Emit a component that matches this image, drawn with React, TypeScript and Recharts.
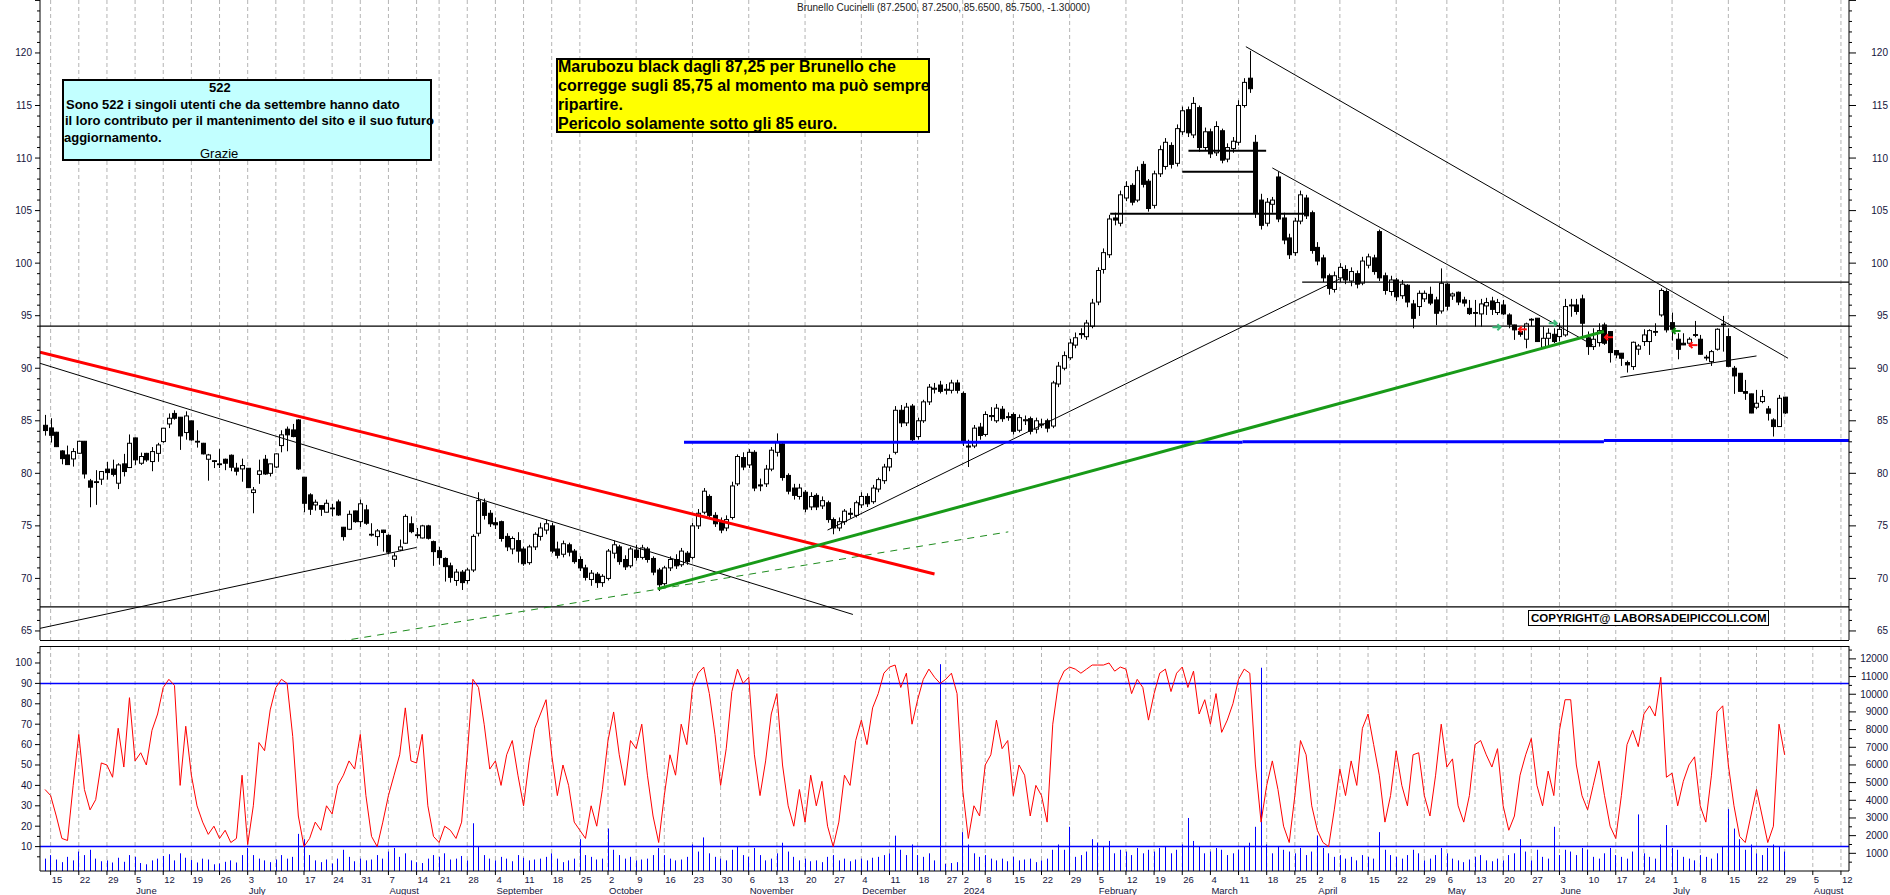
import React from 'react';
import { ComposedChart, Bar, Line, XAxis, YAxis, ReferenceLine, Scatter, CartesianGrid } from 'recharts';

const FONT = '"Liberation Sans", Arial, sans-serif';
const LABEL = '#14143c';

// ---------- calendar ----------
const HOLIDAYS = ['2023-08-15', '2023-12-25', '2023-12-26', '2024-01-01', '2024-03-29', '2024-04-01', '2024-05-01', '2024-08-15'];
const MONTHS = ['January', 'February', 'March', 'April', 'May', 'June', 'July', 'August', 'September', 'October', 'November', 'December'];

function buildDates(n: number): Date[] {
  const out: Date[] = [];
  let t = Date.UTC(2023, 4, 12);
  while (out.length < n) {
    const d = new Date(t);
    const wd = d.getUTCDay();
    const iso = d.toISOString().slice(0, 10);
    if (wd !== 0 && wd !== 6 && HOLIDAYS.indexOf(iso) < 0) out.push(d);
    t += 86400000;
  }
  return out;
}
const DATES = buildDates(325);

// ---------- price data (daily OHLC) ----------
const OPEN = [
  84.57, 84.32, 83.91, 82.13, 81.75, 81.37, 81.91, 83.05, 79.28, 79.20,
  79.44, 80.40, 80.40, 79.06, 80.90, 80.55, 83.37, 80.96, 81.90, 81.12,
  81.90, 83.02, 84.70, 85.70, 85.34, 83.88, 84.99, 83.05, 82.86, 81.34,
  81.20, 80.90, 81.34, 81.72, 80.50, 80.42, 80.48, 78.17, 79.90, 81.34,
  80.00, 80.60, 82.64, 84.20, 84.13, 85.08, 79.63, 77.95, 76.99, 76.93,
  76.30, 76.70, 77.28, 74.87, 74.68, 76.42, 75.40, 76.52, 74.20, 73.98,
  74.60, 74.10, 71.82, 72.70, 73.35, 75.20, 74.15, 73.85, 75.00, 73.50,
  72.64, 71.90, 71.20, 69.80, 70.60, 69.80, 70.80, 74.30, 77.20, 76.20,
  75.30, 75.40, 74.00, 72.80, 73.60, 72.80, 71.50, 73.00, 74.00, 74.60,
  75.00, 72.80, 72.30, 73.20, 72.60, 71.80, 71.00, 69.90, 70.40, 69.60,
  70.00, 72.40, 73.00, 71.80, 71.20, 72.70, 72.00, 72.80, 71.90, 70.80,
  69.50, 71.00, 71.80, 71.30, 72.40, 72.00, 75.00, 76.30, 77.80, 76.00,
  75.40, 74.80, 75.80, 79.00, 81.50, 80.80, 82.00, 78.90, 79.00, 80.40,
  82.00, 82.80, 79.80, 78.60, 77.80, 78.20, 76.80, 77.90, 76.90, 77.20,
  75.60, 74.80, 75.40, 76.20, 76.00, 77.00, 77.80, 77.30, 78.50, 79.30,
  80.60, 82.00, 86.00, 84.80, 86.40, 83.50, 85.00, 86.80, 88.00, 88.40,
  87.90, 87.90, 88.60, 87.60, 82.60, 82.60, 84.40, 83.70, 85.40, 85.00,
  86.10, 85.30, 85.60, 84.10, 85.00, 85.20, 84.20, 84.60, 85.00, 84.50,
  88.50, 90.00, 91.00, 92.20, 93.20, 93.00, 94.00, 96.30, 99.40, 100.80,
  104.30, 103.80, 106.20, 107.40, 106.00, 109.40, 107.80, 105.50, 108.50, 109.20,
  111.20, 109.50, 112.50, 114.60, 112.20, 114.80, 111.00, 112.50, 110.50, 112.60,
  109.90, 110.90, 111.50, 115.00, 117.60, 111.50, 106.00, 103.80, 105.60, 108.20,
  104.30, 102.40, 101.00, 104.00, 106.20, 104.80, 101.50, 100.50, 98.80, 97.50,
  98.60, 99.40, 98.30, 99.00, 98.10, 99.80, 100.50, 103.00, 98.80, 97.30,
  98.40, 96.90, 97.90, 96.12, 95.87, 96.60, 97.03, 96.50, 95.45, 98.00,
  96.88, 97.23, 96.50, 95.70, 95.30, 95.17, 95.93, 96.40, 95.30, 96.02,
  95.07, 94.12, 93.49, 92.76, 94.66, 94.76, 91.99, 92.85, 93.23, 93.01,
  93.17, 96.02, 96.02, 96.60, 92.90, 92.06, 92.44, 94.12, 93.49, 91.68,
  91.43, 90.54, 90.16, 91.81, 92.54, 92.54, 93.50, 95.07, 97.30, 94.34,
  92.76, 92.38, 92.38, 93.20, 92.76, 91.05, 90.63, 91.81, 94.20, 93.01,
  90.00, 89.52, 87.78, 87.56, 86.29, 86.83, 86.13, 85.08, 84.45, 87.25,
];
const HIGH = [
  85.56, 85.24, 83.95, 82.20, 82.64, 82.39, 83.10, 83.08, 79.47, 80.30,
  80.20, 81.10, 81.30, 80.96, 81.85, 83.70, 83.40, 81.97, 81.95, 82.50,
  82.90, 84.30, 85.70, 86.00, 85.36, 85.90, 85.00, 84.10, 82.90, 81.85,
  81.25, 82.30, 81.40, 81.80, 81.00, 81.40, 80.50, 78.70, 81.30, 81.75,
  80.92, 81.90, 84.10, 84.45, 84.70, 85.15, 79.65, 78.10, 77.50, 76.95,
  77.50, 77.10, 77.50, 74.90, 76.46, 76.45, 77.50, 77.00, 75.25, 74.70,
  74.62, 74.20, 72.45, 73.70, 76.10, 75.90, 74.80, 75.10, 75.10, 73.60,
  73.00, 72.00, 71.50, 70.90, 70.80, 71.00, 74.20, 78.20, 77.60, 76.50,
  75.80, 75.50, 74.30, 74.00, 74.40, 73.00, 73.20, 74.40, 75.30, 75.60,
  75.30, 73.50, 73.60, 73.40, 72.80, 72.10, 71.30, 70.80, 70.60, 70.40,
  72.80, 73.60, 73.20, 72.20, 73.00, 73.20, 73.20, 73.00, 72.10, 71.00,
  71.20, 72.10, 72.30, 72.90, 72.60, 75.30, 76.60, 78.60, 78.00, 76.30,
  75.80, 76.00, 79.20, 81.80, 82.00, 82.30, 82.20, 79.50, 80.80, 82.50,
  83.80, 83.00, 80.00, 79.00, 79.00, 78.40, 78.20, 78.10, 77.80, 77.40,
  75.80, 75.80, 76.60, 76.70, 77.40, 78.20, 78.10, 78.90, 79.60, 80.90,
  81.80, 86.40, 86.50, 86.70, 86.60, 85.30, 87.00, 88.50, 88.60, 88.80,
  88.50, 88.90, 88.90, 87.80, 83.20, 84.60, 84.80, 85.90, 86.30, 86.60,
  86.40, 85.80, 85.80, 85.60, 85.50, 85.40, 85.30, 85.20, 85.20, 88.80,
  90.60, 91.60, 92.80, 93.40, 93.80, 94.60, 96.60, 99.60, 101.40, 104.60,
  104.80, 106.90, 107.80, 107.60, 109.20, 109.70, 108.00, 108.80, 111.20, 111.90,
  111.50, 113.20, 114.90, 114.90, 115.80, 115.00, 112.90, 112.80, 113.50, 112.80,
  111.40, 112.00, 115.50, 117.60, 120.20, 112.20, 106.60, 106.20, 106.30, 108.70,
  104.80, 102.80, 104.30, 106.90, 106.50, 105.00, 102.00, 100.80, 99.00, 99.20,
  100.00, 99.80, 99.60, 99.30, 100.60, 100.90, 100.80, 103.20, 99.10, 98.80,
  98.60, 98.40, 98.00, 96.50, 97.40, 97.40, 97.76, 96.80, 99.50, 98.10,
  97.20, 97.30, 96.80, 96.50, 96.50, 96.60, 96.70, 96.80, 96.60, 96.50,
  95.23, 94.14, 93.80, 94.34, 94.76, 94.78, 93.96, 93.80, 93.80, 94.28,
  96.60, 96.60, 96.60, 97.00, 93.50, 93.80, 94.28, 94.34, 93.50, 91.74,
  91.45, 90.73, 92.54, 92.31, 93.71, 93.71, 94.28, 97.60, 97.50, 95.30,
  93.33, 93.33, 92.95, 94.50, 93.17, 91.27, 91.74, 93.80, 94.98, 93.80,
  90.22, 89.54, 88.89, 87.58, 87.94, 87.94, 86.41, 85.24, 87.46, 87.27,
];
const LOW = [
  83.59, 82.93, 82.50, 80.86, 80.80, 80.64, 81.85, 79.50, 76.77, 77.00,
  78.90, 79.40, 79.70, 78.50, 79.70, 80.50, 80.80, 80.80, 81.10, 80.20,
  81.10, 82.90, 84.30, 85.10, 82.23, 83.20, 83.10, 82.45, 81.80, 79.30,
  80.50, 80.50, 80.30, 80.20, 79.80, 79.20, 78.60, 76.20, 79.00, 79.85,
  79.70, 80.50, 82.00, 82.10, 83.43, 80.32, 76.30, 76.04, 76.46, 75.95,
  76.28, 75.90, 75.95, 73.60, 74.60, 75.30, 74.90, 75.10, 74.00, 73.10,
  72.55, 72.30, 71.10, 72.60, 73.30, 74.30, 73.80, 73.80, 73.70, 71.20,
  71.30, 69.70, 69.60, 69.30, 68.90, 69.50, 70.60, 74.00, 75.60, 74.90,
  74.70, 73.50, 72.60, 72.30, 71.50, 71.20, 71.30, 72.70, 73.60, 74.20,
  72.40, 71.90, 72.00, 72.10, 71.40, 70.70, 69.80, 69.30, 69.10, 69.20,
  69.80, 71.90, 71.30, 70.80, 71.00, 71.70, 71.80, 71.50, 70.30, 68.80,
  69.30, 70.70, 70.90, 71.10, 71.30, 71.80, 74.70, 76.10, 75.70, 74.90,
  74.30, 74.50, 75.60, 78.80, 80.30, 80.50, 78.30, 78.30, 78.70, 80.20,
  81.60, 79.30, 78.00, 77.50, 77.50, 76.30, 76.50, 76.50, 76.60, 75.30,
  74.20, 74.50, 75.10, 75.70, 75.80, 76.70, 76.80, 77.10, 78.20, 79.00,
  80.20, 81.80, 84.40, 84.50, 83.00, 83.20, 84.80, 86.50, 87.60, 87.60,
  87.50, 87.60, 87.60, 82.60, 80.60, 82.40, 83.20, 83.50, 85.00, 84.80,
  84.90, 85.00, 83.70, 83.90, 84.60, 83.70, 83.80, 84.30, 83.90, 84.30,
  88.20, 89.80, 90.80, 91.90, 92.80, 92.70, 93.80, 96.00, 99.00, 100.50,
  103.60, 103.50, 105.90, 105.50, 105.80, 107.20, 104.90, 105.20, 108.20, 108.90,
  109.00, 109.20, 112.20, 112.00, 111.90, 110.60, 110.70, 110.00, 110.20, 109.50,
  109.60, 110.50, 111.20, 114.80, 116.20, 104.30, 103.20, 103.50, 104.80, 103.90,
  101.80, 100.40, 100.70, 103.70, 104.20, 100.90, 99.80, 98.20, 97.00, 97.20,
  98.20, 98.00, 97.80, 97.60, 97.90, 99.50, 98.90, 98.30, 97.00, 96.90,
  96.40, 96.60, 95.80, 93.80, 94.98, 96.30, 96.00, 94.10, 95.20, 95.50,
  96.50, 96.00, 95.87, 95.07, 93.96, 93.96, 95.07, 95.07, 95.07, 95.07,
  93.80, 92.70, 93.00, 91.90, 94.00, 92.50, 91.90, 92.06, 92.40, 92.54,
  93.00, 94.90, 95.10, 93.00, 91.27, 91.74, 92.06, 92.22, 90.54, 90.95,
  90.22, 89.59, 89.84, 91.27, 92.12, 91.27, 93.07, 94.90, 93.40, 92.63,
  90.85, 92.20, 92.06, 92.95, 91.30, 90.73, 90.22, 91.68, 91.58, 90.16,
  87.56, 87.78, 86.99, 85.72, 86.10, 86.67, 85.02, 83.50, 84.43, 85.65,
];
const CLOSE = [
  84.07, 83.62, 82.54, 81.40, 80.83, 82.07, 83.05, 79.94, 78.68, 79.15,
  80.17, 80.07, 79.90, 80.80, 80.17, 82.86, 81.28, 81.60, 81.28, 82.07,
  82.70, 84.29, 85.24, 85.24, 83.56, 85.46, 83.18, 83.00, 81.85, 81.75,
  81.15, 80.85, 80.96, 80.58, 80.20, 80.74, 78.64, 78.42, 80.23, 79.94,
  80.90, 81.85, 83.66, 83.66, 83.50, 80.42, 77.15, 76.58, 77.25, 76.58,
  77.15, 76.65, 76.04, 73.98, 76.10, 75.40, 77.10, 75.25, 74.13, 74.52,
  74.37, 72.50, 72.14, 73.00, 75.90, 74.45, 74.10, 75.00, 73.82, 72.55,
  71.98, 71.12, 70.10, 70.60, 69.60, 70.80, 74.00, 77.40, 76.00, 75.20,
  75.10, 73.80, 73.00, 73.80, 72.60, 71.40, 73.00, 74.20, 74.80, 75.20,
  72.60, 72.20, 73.30, 72.50, 71.60, 71.00, 70.10, 70.50, 69.60, 70.20,
  72.60, 73.20, 71.60, 71.10, 72.80, 72.00, 72.90, 71.80, 70.60, 69.40,
  71.00, 71.80, 71.20, 72.60, 71.60, 75.00, 76.20, 78.30, 76.00, 75.20,
  74.60, 75.60, 78.80, 81.60, 80.60, 82.00, 78.60, 78.80, 80.40, 82.20,
  83.00, 79.60, 78.30, 77.90, 78.60, 76.60, 77.80, 76.80, 77.40, 75.60,
  74.80, 75.40, 76.40, 76.10, 77.20, 77.80, 77.10, 78.60, 79.40, 80.60,
  81.40, 86.00, 84.80, 86.30, 83.20, 85.00, 86.80, 88.20, 88.10, 87.80,
  88.00, 88.60, 87.90, 83.00, 82.50, 84.30, 83.60, 85.60, 85.50, 86.20,
  85.20, 85.40, 84.00, 85.30, 85.10, 84.00, 85.00, 84.70, 84.30, 88.60,
  90.20, 91.20, 92.40, 92.90, 93.30, 94.30, 96.20, 99.30, 101.00, 104.20,
  104.10, 106.50, 107.30, 105.80, 108.80, 107.50, 105.20, 108.50, 110.80, 111.50,
  109.40, 112.80, 114.50, 112.40, 115.20, 111.00, 112.50, 110.40, 113.00, 109.80,
  111.00, 111.60, 115.00, 117.20, 116.60, 104.80, 103.60, 105.80, 106.00, 104.20,
  102.20, 100.80, 104.00, 106.50, 104.50, 101.20, 100.20, 98.60, 97.60, 98.80,
  99.60, 98.40, 99.20, 98.00, 100.20, 100.60, 99.20, 98.60, 97.40, 98.40,
  96.80, 98.00, 96.30, 94.75, 97.13, 97.13, 96.20, 95.23, 98.08, 95.90,
  97.07, 96.30, 96.20, 95.20, 95.25, 96.12, 96.25, 95.60, 96.25, 95.17,
  94.18, 93.65, 93.23, 94.22, 94.60, 92.54, 92.85, 93.33, 92.54, 93.70,
  95.87, 95.93, 95.40, 94.28, 92.06, 92.76, 93.58, 92.38, 91.49, 91.27,
  90.95, 90.32, 92.47, 92.12, 93.17, 93.58, 93.49, 97.40, 93.65, 93.71,
  91.80, 92.22, 92.76, 93.17, 91.33, 91.00, 91.58, 93.71, 94.12, 90.18,
  89.27, 87.80, 87.62, 85.74, 86.67, 87.30, 85.72, 84.45, 87.14, 85.75,
];

// ---------- oscillator & volume ----------
const OSC = [
  38, 35, 25, 14, 13, 40, 65, 38, 28, 33,
  51, 50, 44, 68, 49, 83, 52, 56, 50, 67,
  75, 88, 92, 89, 40, 69, 45, 30, 22, 16,
  20, 14, 18, 12, 14, 45, 11, 30, 61, 57,
  77, 88, 92, 90, 64, 25, 10, 14, 22, 18,
  30, 26, 40, 45, 52, 48, 65, 35, 15, 10,
  22, 35, 45, 55, 78, 52, 51, 65, 30, 15,
  12, 20, 18, 14, 22, 55, 92, 88, 70, 48,
  52, 40, 55, 62, 45, 30, 52, 68, 75, 82,
  55, 35, 50, 40, 22, 18, 14, 30, 20, 38,
  62, 76, 55, 40, 62, 58, 70, 45, 25, 12,
  35, 55, 45, 70, 60, 88, 95, 98, 85, 65,
  40, 58, 86, 97, 90, 93, 55, 35, 52, 75,
  85, 50, 30, 20, 38, 22, 45, 30, 42, 20,
  10, 22, 45, 40, 62, 72, 60, 78, 85, 95,
  98, 99, 88, 95, 70, 82, 92, 97, 93, 90,
  92, 95, 85, 38, 14, 30, 25, 50, 55, 72,
  58, 62, 35, 50, 45, 25, 40, 35, 22, 70,
  90, 96, 98, 97, 95, 97, 99, 99, 99, 100,
  96, 98, 97, 85, 92, 88, 72, 85, 95, 97,
  86, 95, 98, 88, 96, 75, 82, 70, 85, 66,
  72, 80, 92, 97, 95, 50, 22, 40, 52, 38,
  20, 12, 35, 62, 55, 30, 18, 12, 10, 28,
  48, 35, 52, 40, 68, 75, 60, 45, 22, 35,
  57, 40, 30, 55, 56, 35, 25, 45, 70, 49,
  53, 30, 22, 35, 60, 62, 55, 49, 58, 30,
  18, 25, 45, 55, 63, 40, 30, 47, 35, 67,
  82, 82, 50, 35, 28, 40, 52, 35, 20, 14,
  35, 60, 67, 59, 75, 79, 74, 93, 44, 46,
  30, 42, 50, 54, 30, 22, 45, 76, 79, 50,
  30, 15, 12, 25, 38, 25, 12, 20, 70, 55,
];
const VOL = [
  700, 900, 650, 500, 800, 600, 1100, 900, 1200, 700,
  550, 600, 480, 750, 520, 900, 800, 450, 380, 600,
  700, 850, 950, 600, 1000, 750, 620, 480, 700, 650,
  380, 420, 520, 600, 480, 900, 1300, 900, 700, 600,
  500, 650, 900, 700, 800, 2100, 1800, 900, 600, 500,
  650, 420, 700, 1200, 800, 550, 700, 600, 650, 900,
  700, 1100, 1300, 800, 1000, 600, 500, 450, 700, 900,
  800, 1000, 650, 700, 850, 600, 2700, 1400, 900, 700,
  600, 800, 700, 550, 900, 750, 600, 650, 700, 800,
  1000, 700, 500, 600, 700, 1800, 900, 800, 650, 700,
  2400, 1200, 900, 700, 800, 600, 650, 700, 900, 1300,
  900, 700, 600, 650, 800, 1500, 1100, 1900, 1000, 800,
  700, 600, 1200, 1400, 900, 800, 1300, 900, 600, 700,
  1000, 1600, 1100, 800, 600, 700, 550, 600, 500, 800,
  900, 600, 700, 550, 650, 700, 600, 750, 800, 900,
  1000, 2000, 1200, 900, 1500, 900, 800, 1000, 600, 11700,
  400, 450, 500, 2200, 1500, 1000, 800, 900, 700, 600,
  700, 550, 800, 600, 650, 700, 500, 600, 700, 1200,
  1500, 1200, 2500, 800, 900, 1100, 1800, 1600, 1400, 1700,
  1000, 1200, 1100, 900, 1300, 1000, 1200, 1100, 1300, 1400,
  1000, 1200, 1500, 3000, 1700, 1400, 1000, 1100, 1300, 1200,
  900, 1000, 1200, 1400, 1600, 2500, 11500, 1500, 1000, 1400,
  1200, 1100, 1000, 1300, 900, 1100, 2000, 1300, 1000, 800,
  900, 700, 800, 600, 900, 800, 700, 2200, 1200, 900,
  800, 700, 900, 1200, 1000, 600, 700, 900, 1300, 1000,
  700, 600, 500, 650, 800, 900, 600, 550, 700, 600,
  900, 1000, 1800, 1100, 600, 1200, 800, 700, 2500, 900,
  1200, 1100, 900, 1300, 1200, 800, 700, 1000, 1300, 900,
  800, 700, 1100, 3200, 1000, 800, 700, 1500, 2600, 1300,
  1200, 800, 700, 600, 900, 800, 700, 1000, 1400, 3500,
  2400, 1800, 1200, 1500, 1000, 900, 1300, 1500, 1400, 1100,
];

// ---------- drawn lines (index, price) ----------
const RED_TREND = [[-0.89, 91.52], [158, 70.42]];
const BLACK_DOWN_1 = [[-0.89, 90.47], [143.5, 66.57]];
const BLACK_UP_1 = [[-0.89, 65.25], [66, 72.95]];
const GREEN_DASHED = [[47.6, 63.6], [171.1, 74.43]];
const GREEN_TREND = [[108.8, 69.0], [276.9, 93.49]];
const BLACK_UP_2 = [[139, 74.6], [230, 98.5]];
const BLACK_DOWN_2 = [[213.3, 120.6], [309.6, 90.95]];
const BLACK_DOWN_3 = [[218, 109.06], [275, 92.2]];
const BLACK_UP_3 = [[279.8, 89.14], [304, 91.17]];
const FULL_LEVELS = [94.0, 67.3];
const RES_LEVEL = [[223.3, 98.2], [320.43, 98.2]];
const SHORT_LEVELS = [
  [[189.2, 104.7], [224.4, 104.7]],
  [[202, 108.7], [214.8, 108.7]],
  [[203.1, 110.7], [216.9, 110.7]],
];
const BLUE_SUPPORT = [
  [[113.5, 82.95], [212.7, 82.95]],
  [[212.7, 83.0], [276.9, 83.0]],
  [[276.9, 83.12], [320.43, 83.12]],
];
const ARROW_I = [257.8, 262.5, 267.8, 277.8, 289.8, 292.8];
const ARROW_P = [93.9, 93.7, 94.28, 92.95, 93.55, 92.2];
const ARROW_DIR = [1, -1, 1, -1, -1, -1];
const ARROW_KIND = ['buy', 'sell', 'buy', 'sell', 'buy2', 'sell'];
const OSC_LEVELS = [90, 10];

// ---------- axes ----------
const X_MIN = -0.89;
const X_MAX = 320.43;
const P_DOMAIN = [64.14, 125.04];
const O_DOMAIN = [-1.96, 108.33];
const V_DOMAIN = [0, 12729];
const PRICE_TICKS = Array.from({ length: 61 }, (_, k) => 65 + k);
const OSC_TICKS = Array.from({ length: 21 }, (_, k) => 5 + k * 5);
const VOL_TICKS = Array.from({ length: 25 }, (_, k) => 500 + k * 500);

const TICKS: number[] = [];
for (let i = 1; i < DATES.length && i <= X_MAX; i++) {
  if (DATES[i].getUTCDay() < DATES[i - 1].getUTCDay()) TICKS.push(i);
}

const PRICE_ROWS = OPEN.map((o, i) => ({ i, o, h: HIGH[i], l: LOW[i], c: CLOSE[i] }));
const LOWER_ROWS = OSC.map((v, i) => ({ i, osc: v, vol: VOL[i] }));
const ARROW_ROWS = ARROW_I.map((i, k) => ({ i, p: ARROW_P[k], dir: ARROW_DIR[k], kind: ARROW_KIND[k] }));

const ARROW_COLORS: Record<string, string> = { buy: '#3cb878', sell: '#ff1010', buy2: '#109010' };

// ---------- shapes ----------
const Candle = (props: any) => {
  const { x, y, width, height, payload } = props;
  if (x == null || y == null) return null;
  const { o, h, l, c } = payload;
  const top = Math.min(y, y + height);
  const span = Math.abs(height);
  const cx = Math.round(x + width / 2) + 0.5;
  const py = (v: number) => top + ((h - v) / (h - l)) * span;
  const bTop = py(Math.max(o, c));
  const bBot = py(Math.min(o, c));
  const up = c >= o;
  return (
    <g>
      <line x1={cx} x2={cx} y1={top} y2={top + span} stroke="#000" strokeWidth={1} />
      <rect x={cx - 2} y={bTop} width={4} height={Math.max(bBot - bTop, 0.8)} fill={up ? '#fff' : '#000'} stroke="#000" strokeWidth={1} />
    </g>
  );
};

const VolShape = (props: any) => {
  const { x, y, width, height } = props;
  if (x == null || !height) return null;
  const cx = Math.round(x + width / 2) + 0.5;
  return <line x1={cx} x2={cx} y1={Math.min(y, y + height)} y2={Math.max(y, y + height)} stroke="#0000ff" strokeWidth={1} />;
};

const ArrowShape = (props: any) => {
  const { cx, cy, payload } = props;
  if (cx == null) return null;
  const col = ARROW_COLORS[payload.kind];
  const d = payload.dir;
  const tip = cx + d * 4;
  return (
    <g stroke={col} strokeWidth={2} fill="none">
      <line x1={cx - 4} x2={cx + 4} y1={cy} y2={cy} />
      <polyline points={`${tip - d * 3},${cy - 3} ${tip},${cy} ${tip - d * 3},${cy + 3}`} />
    </g>
  );
};

const makeYTick = (side: 'left' | 'right', step: number, minLabel: number, maxLabel: number, majorLen: number) => (props: any) => {
  const { x, y, payload } = props;
  const v = payload.value;
  const major = Math.abs(v / step - Math.round(v / step)) < 1e-6;
  const dir = side === 'left' ? -1 : 1;
  const len = major ? majorLen : 3;
  const showLabel = major && v >= minLabel && v <= maxLabel;
  return (
    <g>
      <line x1={x} x2={x + dir * len} y1={y} y2={y} stroke="#000" strokeWidth={1} />
      {showLabel && (
        <text x={side === 'left' ? x - 8 : x + 39} y={y + 3.5} textAnchor="end" fontSize={10} fontFamily={FONT} fill={LABEL}>
          {v}
        </text>
      )}
    </g>
  );
};

const DateTick = (props: any) => {
  const { x, y, payload } = props;
  const i = payload.value;
  const k = TICKS.indexOf(i);
  const d = DATES[i];
  if (!d) return null;
  const prev = k > 0 ? DATES[TICKS[k - 1]] : null;
  const newMonth = prev !== null && prev.getUTCMonth() !== d.getUTCMonth();
  const mLabel = newMonth ? (d.getUTCMonth() === 0 ? String(d.getUTCFullYear()) : MONTHS[d.getUTCMonth()]) : null;
  return (
    <g>
      <line x1={x} x2={x} y1={y} y2={y + 4} stroke="#000" strokeWidth={1} />
      <text x={x + 1} y={y + 12} fontSize={9.5} fontFamily={FONT} fill={LABEL} textAnchor="start">
        {d.getUTCDate()}
      </text>
      {mLabel && (
        <text x={x + 1} y={y + 23} fontSize={9.5} fontFamily={FONT} fill={LABEL} textAnchor="start">
          {mLabel}
        </text>
      )}
    </g>
  );
};

const seg = (s: number[][]) => [{ x: s[0][0], y: s[0][1] }, { x: s[1][0], y: s[1][1] }];

function PriceChart() {
  return (
    <ComposedChart width={1890} height={640} data={PRICE_ROWS} margin={{ top: 0, right: 0, bottom: 0, left: 0 }}>
      <XAxis hide type="number" dataKey="i" domain={[X_MIN, X_MAX]} allowDataOverflow ticks={TICKS} />
      <YAxis yAxisId="p" orientation="left" width={40} type="number" domain={P_DOMAIN} allowDataOverflow
        ticks={PRICE_TICKS} interval={0} tickLine={false} tickSize={0} tickMargin={0}
        axisLine={{ stroke: '#000' }} tick={makeYTick('left', 5, 65, 120, 5)} />
      <YAxis yAxisId="pr" orientation="right" width={41} type="number" domain={P_DOMAIN} allowDataOverflow
        ticks={PRICE_TICKS} interval={0} tickLine={false} tickSize={0} tickMargin={0}
        axisLine={{ stroke: '#000' }} tick={makeYTick('right', 5, 65, 120, 7)} />
      <CartesianGrid yAxisId="p" horizontal={false} verticalValues={TICKS} stroke="#b4b4b4" strokeDasharray="4 3" />
      {FULL_LEVELS.map((v) => (
        <ReferenceLine key={'fl' + v} yAxisId="p" y={v} stroke="#000" strokeWidth={1.3} />
      ))}
      <ReferenceLine yAxisId="p" segment={seg(RES_LEVEL)} stroke="#000" strokeWidth={1.3} />
      {SHORT_LEVELS.map((s, k) => (
        <ReferenceLine key={'sl' + k} yAxisId="p" segment={seg(s)} stroke="#000" strokeWidth={2} />
      ))}
      <ReferenceLine yAxisId="p" segment={seg(BLACK_DOWN_1)} stroke="#000" strokeWidth={1} ifOverflow="hidden" />
      <ReferenceLine yAxisId="p" segment={seg(BLACK_UP_1)} stroke="#000" strokeWidth={1} ifOverflow="hidden" />
      <ReferenceLine yAxisId="p" segment={seg(GREEN_DASHED)} stroke="#1e8c1e" strokeWidth={1} strokeDasharray="7 6" ifOverflow="hidden" />
      <ReferenceLine yAxisId="p" segment={seg(BLACK_UP_2)} stroke="#000" strokeWidth={1} ifOverflow="hidden" />
      <ReferenceLine yAxisId="p" segment={seg(BLACK_DOWN_2)} stroke="#000" strokeWidth={1} ifOverflow="hidden" />
      <ReferenceLine yAxisId="p" segment={seg(BLACK_DOWN_3)} stroke="#000" strokeWidth={1} ifOverflow="hidden" />
      <ReferenceLine yAxisId="p" segment={seg(BLACK_UP_3)} stroke="#000" strokeWidth={1} ifOverflow="hidden" />
      {BLUE_SUPPORT.map((s, k) => (
        <ReferenceLine key={'bs' + k} yAxisId="p" segment={seg(s)} stroke="#0000ff" strokeWidth={3} />
      ))}
      <Bar yAxisId="p" dataKey={(d: any) => [d.l, d.h]} barSize={5} shape={Candle} isAnimationActive={false} />
      <ReferenceLine yAxisId="p" segment={seg(RED_TREND)} stroke="#ff0000" strokeWidth={3} ifOverflow="hidden" />
      <ReferenceLine yAxisId="p" segment={seg(GREEN_TREND)} stroke="#189a18" strokeWidth={3} ifOverflow="hidden" />
      <Scatter yAxisId="p" data={ARROW_ROWS} dataKey="p" shape={ArrowShape} isAnimationActive={false} />
    </ComposedChart>
  );
}

function LowerChart() {
  return (
    <ComposedChart width={1890} height={249} data={LOWER_ROWS} margin={{ top: 0, right: 0, bottom: 0, left: 0 }}>
      <XAxis type="number" dataKey="i" domain={[X_MIN, X_MAX]} allowDataOverflow ticks={TICKS} interval={0}
        height={24} tickLine={false} tickSize={0} tickMargin={0} axisLine={{ stroke: '#000' }} tick={DateTick} />
      <YAxis yAxisId="o" orientation="left" width={40} type="number" domain={O_DOMAIN} allowDataOverflow
        ticks={OSC_TICKS} interval={0} tickLine={false} tickSize={0} tickMargin={0}
        axisLine={{ stroke: '#000' }} tick={makeYTick('left', 10, 10, 100, 5)} />
      <YAxis yAxisId="v" orientation="right" width={41} type="number" domain={V_DOMAIN} allowDataOverflow
        ticks={VOL_TICKS} interval={0} tickLine={false} tickSize={0} tickMargin={0}
        axisLine={{ stroke: '#000' }} tick={makeYTick('right', 1000, 1000, 12000, 7)} />
      <CartesianGrid yAxisId="o" horizontal={false} verticalValues={TICKS} stroke="#b4b4b4" strokeDasharray="4 3" />
      <Bar yAxisId="v" dataKey="vol" barSize={1} shape={VolShape} isAnimationActive={false} />
      {OSC_LEVELS.map((v) => (
        <ReferenceLine key={'ol' + v} yAxisId="o" y={v} stroke="#0000ff" strokeWidth={1.5} />
      ))}
      <Line yAxisId="o" dataKey="osc" type="linear" stroke="#ff0000" strokeWidth={1} dot={false} isAnimationActive={false} />
    </ComposedChart>
  );
}

const boxText: React.CSSProperties = { position: 'absolute', whiteSpace: 'nowrap', fontFamily: FONT, color: '#000' };

export default function App() {
  return (
    <div style={{ position: 'absolute', left: 0, top: 0, width: 1890, height: 895, background: '#fff', overflow: 'hidden' }}>
      <div style={{ position: 'absolute', left: 0, top: 0 }}>
        <PriceChart />
      </div>
      <div style={{ position: 'absolute', left: 0, top: 646 }}>
        <LowerChart />
      </div>
      {/* panel borders */}
      <div style={{ position: 'absolute', left: 40, top: 639.5, width: 1809, height: 1.5, background: '#000' }} />
      <div style={{ position: 'absolute', left: 40, top: 645.5, width: 1809, height: 1.5, background: '#000' }} />

      {/* title */}
      <div style={{ ...boxText, left: 797, top: 2, fontSize: 10, color: '#222' }}>
        Brunello Cucinelli (87.2500, 87.2500, 85.6500, 85.7500, -1.30000)
      </div>

      {/* cyan note */}
      <div style={{ position: 'absolute', left: 62, top: 79, width: 370, height: 82, boxSizing: 'border-box', border: '2px solid #000', background: '#c2ffff' }} />
      <div style={{ ...boxText, left: 209, top: 80, fontSize: 13, fontWeight: 'bold', lineHeight: '16px' }}>522</div>
      <div style={{ ...boxText, left: 66, top: 97, fontSize: 13, fontWeight: 'bold', lineHeight: '16px' }}>Sono 522 i singoli utenti che da settembre hanno dato</div>
      <div style={{ ...boxText, left: 65, top: 113, fontSize: 13, fontWeight: 'bold', lineHeight: '16px' }}>il loro contributo per il mantenimento del sito e il suo futuro</div>
      <div style={{ ...boxText, left: 64, top: 130, fontSize: 13, fontWeight: 'bold', lineHeight: '16px' }}>aggiornamento.</div>
      <div style={{ ...boxText, left: 200, top: 146, fontSize: 13, lineHeight: '16px' }}>Grazie</div>

      {/* yellow note */}
      <div style={{ position: 'absolute', left: 556, top: 58, width: 374, height: 75, boxSizing: 'border-box', border: '2px solid #000', background: '#ffff00' }} />
      <div style={{ ...boxText, left: 558, top: 57, fontSize: 16, fontWeight: 'bold', lineHeight: '19px' }}>Marubozu black dagli 87,25 per Brunello che</div>
      <div style={{ ...boxText, left: 558, top: 76, fontSize: 16, fontWeight: 'bold', lineHeight: '19px' }}>corregge sugli 85,75 al momento ma può sempre</div>
      <div style={{ ...boxText, left: 558, top: 95, fontSize: 16, fontWeight: 'bold', lineHeight: '19px' }}>ripartire.</div>
      <div style={{ ...boxText, left: 558, top: 114, fontSize: 16, fontWeight: 'bold', lineHeight: '19px' }}>Pericolo solamente sotto gli 85 euro.</div>

      {/* copyright */}
      <div style={{ position: 'absolute', left: 1528, top: 610, width: 241, height: 16, boxSizing: 'border-box', border: '1.5px solid #000', background: '#fff' }} />
      <div style={{ ...boxText, left: 1531, top: 610, fontSize: 11.5, fontWeight: 'bold', lineHeight: '16px' }}>COPYRIGHT@ LABORSADEIPICCOLI.COM</div>
    </div>
  );
}
